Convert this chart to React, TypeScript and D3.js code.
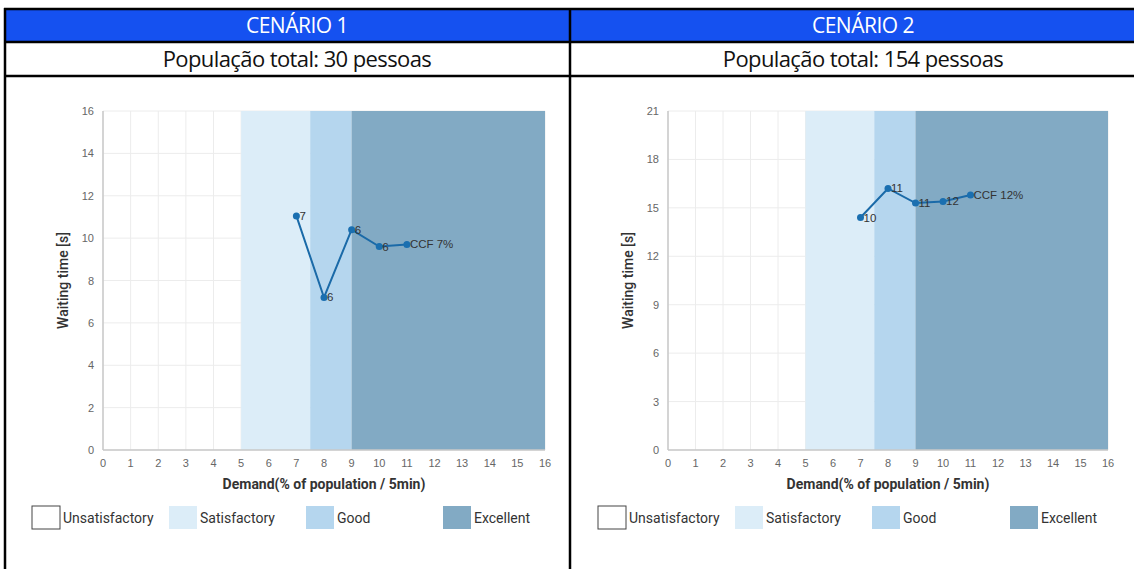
import React from 'react';
import * as d3 from 'd3';

// scenario 1
const demand1 = [7, 8, 9, 10, 11];
const wait1 = [11.05, 7.2, 10.4, 9.6, 9.7];
const labels1 = ['7', '6', '6', '6', 'CCF 7%'];
const yTicks1 = [0, 2, 4, 6, 8, 10, 12, 14, 16];

// scenario 2
const demand2 = [7, 8, 9, 10, 11];
const wait2 = [14.4, 16.2, 15.3, 15.4, 15.8];
const labels2 = ['10', '11', '11', '12', 'CCF 12%'];
const yTicks2 = [0, 3, 6, 9, 12, 15, 18, 21];

const xTicks = d3.range(0, 17);

const bandNames = ['Satisfactory', 'Good', 'Excellent'];
const bandStarts = [5, 7.5, 9];
const bandEnds = [7.5, 9, 16];
const bandColors = ['#dcedf8', '#b5d6ee', '#82aac4'];

const legendNames = ['Unsatisfactory', 'Satisfactory', 'Good', 'Excellent'];
const legendColors = ['#ffffff', '#dcedf8', '#b5d6ee', '#82aac4'];

const titles = ['CENÁRIO 1', 'CENÁRIO 2'];
const subtitles = ['População total: 30 pessoas', 'População total: 154 pessoas'];

const condFont = 'Roboto, "Liberation Sans", sans-serif';
const tickFont = '"Liberation Sans", Arial, sans-serif';
const headFont = '"Open Sans", "Noto Sans", sans-serif';

interface PanelProps {
  plotLeft: number;
  plotRight: number;
  demand: number[];
  wait: number[];
  labels: string[];
  yTicks: number[];
  legendX: number[];
}

const Panel: React.FC<PanelProps> = ({ plotLeft, plotRight, demand, wait, labels, yTicks, legendX }) => {
  const top = 111;
  const bottom = 450;
  const x = d3.scaleLinear().domain([0, 16]).range([plotLeft, plotRight]);
  const y = d3.scaleLinear().domain([0, yTicks[yTicks.length - 1]]).range([bottom, top]);
  const line = d3.line<number>().x((_, i) => x(demand[i])).y(d => y(d));

  return (
    <g>
      {/* grid */}
      {xTicks.map(t => (
        <line key={'gx' + t} x1={x(t)} x2={x(t)} y1={top} y2={bottom} stroke="#ececec" />
      ))}
      {yTicks.map(t => (
        <line key={'gy' + t} x1={plotLeft} x2={plotRight} y1={y(t)} y2={y(t)} stroke="#ececec" />
      ))}
      {/* bands */}
      {bandNames.map((n, i) => (
        <rect key={n} x={x(bandStarts[i])} y={top} width={x(bandEnds[i]) - x(bandStarts[i])}
          height={bottom - top} fill={bandColors[i]} />
      ))}
      {/* axes */}
      <line x1={plotLeft} x2={plotLeft} y1={top} y2={bottom} stroke="#c8c8c8" strokeWidth={1.5} />
      <line x1={plotLeft} x2={plotRight} y1={bottom} y2={bottom} stroke="#c8c8c8" strokeWidth={1.5} />
      {yTicks.map(t => (
        <text key={'yl' + t} x={plotLeft - 9} y={y(t) + 4} textAnchor="end" fontSize={11}
          fill="#666" fontFamily={tickFont}>{t}</text>
      ))}
      {xTicks.map(t => (
        <text key={'xl' + t} x={x(t)} y={467} textAnchor="middle" fontSize={11}
          fill="#666" fontFamily={tickFont}>{t}</text>
      ))}
      <text x={(plotLeft + plotRight) / 2} y={489} textAnchor="middle" fontSize={14}
        fontWeight="bold" fill="#333" fontFamily={condFont}>Demand(% of population / 5min)</text>
      <text transform={`translate(${plotLeft - 35},${(top + bottom) / 2}) rotate(-90)`}
        textAnchor="middle" fontSize={14} fontWeight="500" fill="#333"
        fontFamily={condFont}>Waiting time [s]</text>
      {/* series */}
      <path d={line(wait) || ''} fill="none" stroke="#1a6aa8" strokeWidth={2} />
      {wait.map((v, i) => (
        <circle key={'p' + i} cx={x(demand[i])} cy={y(v)} r={3.5} fill="#1a6fb0" />
      ))}
      {wait.map((v, i) => (
        <text key={'l' + i} x={x(demand[i]) + 3} y={y(v) + 4} fontSize={11.5} fill="#333"
          fontFamily={tickFont}>{labels[i]}</text>
      ))}
      {/* legend */}
      {legendNames.map((n, i) => (
        <g key={n}>
          <rect x={legendX[i]} y={506} width={28} height={23} fill={legendColors[i]}
            stroke={i === 0 ? '#444' : 'none'} strokeWidth={1} />
          <text x={legendX[i] + 31} y={523} fontSize={14} fill="#333"
            fontFamily={condFont}>{n}</text>
        </g>
      ))}
    </g>
  );
};

const App: React.FC = () => {
  const centers = [297, 863];
  return (
    <svg width={1134} height={569} style={{ position: 'absolute', left: 0, top: 0, background: '#fff' }}>
      {/* table */}
      <rect x={5} y={9} width={1140} height={33} fill="#1551f0" />
      {titles.map((t, i) => (
        <text key={t} x={centers[i]} y={33} textAnchor="middle" fontSize={21}
          fill="#fff" fontFamily={headFont} letterSpacing={-0.5}>{t}</text>
      ))}
      {subtitles.map((t, i) => (
        <text key={t} x={centers[i]} y={67} textAnchor="middle" fontSize={22}
          fill="#111" fontFamily={headFont} fontWeight="500" letterSpacing={-0.6}>{t}</text>
      ))}
      <line x1={4} x2={1134} y1={9} y2={9} stroke="#000" strokeWidth={2.5} />
      <line x1={4} x2={1134} y1={42} y2={42} stroke="#000" strokeWidth={2.5} />
      <line x1={4} x2={1134} y1={76} y2={76} stroke="#000" strokeWidth={2.5} />
      <line x1={5} x2={5} y1={8} y2={569} stroke="#000" strokeWidth={2.5} />
      <line x1={570} x2={570} y1={8} y2={569} stroke="#000" strokeWidth={2.5} />
      <Panel plotLeft={103} plotRight={545} demand={demand1} wait={wait1} labels={labels1}
        yTicks={yTicks1} legendX={[32, 169, 306, 443]} />
      <Panel plotLeft={668} plotRight={1108} demand={demand2} wait={wait2} labels={labels2}
        yTicks={yTicks2} legendX={[598, 735, 872, 1010]} />
    </svg>
  );
};

export default App;
